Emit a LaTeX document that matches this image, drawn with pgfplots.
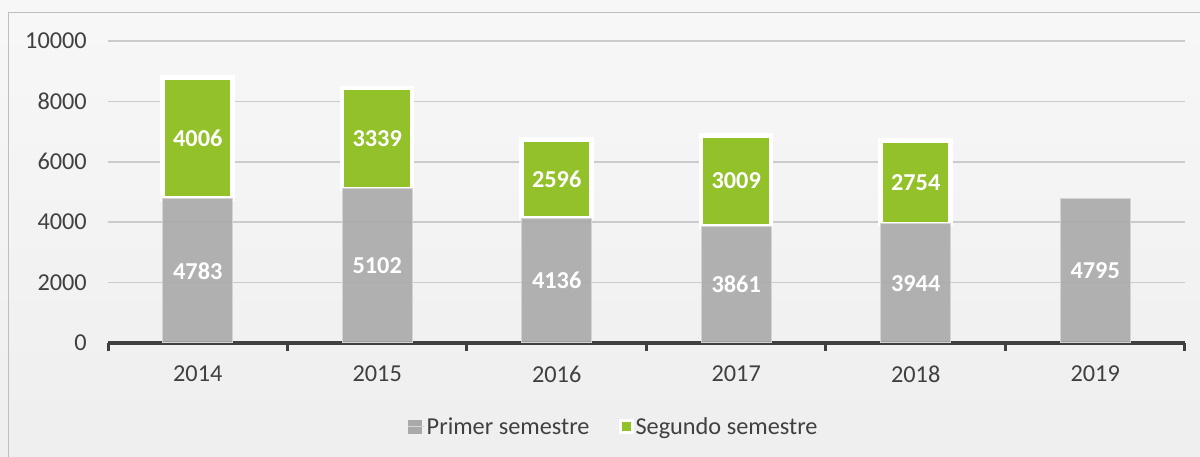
\documentclass[border=0pt]{standalone}
\usepackage{pgfplots}
\pgfplotsset{compat=1.18}
\usepackage{fontspec}
\setmainfont{Carlito}

\definecolor{barGray}{HTML}{A9A9A9}
\definecolor{barEdge}{HTML}{D4D4D4}
\definecolor{barGreen}{HTML}{92C12A}
\definecolor{txtDark}{HTML}{404040}
\definecolor{gridGray}{HTML}{CBCBCB}
\definecolor{frameGray}{HTML}{BEBEBE}

\newcommand{\lbl}{\fontsize{24.3}{29}\selectfont}

\begin{document}
\begin{tikzpicture}
\useasboundingbox (0pt,0pt) rectangle (1200pt,457pt);
\shade[top color=white!97!black, bottom color=white!93.5!black] (0pt,0pt) rectangle (1200pt,457pt);
\draw[frameGray, line width=1.5pt] (8.5pt,-10pt) -- (8.5pt,444.5pt) -- (1210pt,444.5pt);

\begin{axis}[
    at={(108pt,114pt)}, anchor=south west,
    scale only axis,
    width=1077pt, height=302pt,
    ybar stacked,
    bar width=0.39,
    xmin=-0.5, xmax=5.5,
    ymin=0, ymax=10000,
    enlargelimits=false,
    xtick={0,1,2,3,4,5},
    xticklabels={2014,2015,2016,2017,2018,2019},
    ytick={0,2000,4000,6000,8000,10000},
    scaled y ticks=false,
    yticklabel={\pgfmathprintnumber[fixed,precision=0,1000 sep={}]{\tick}},
    extra x ticks={-0.5,0.5,1.5,2.5,3.5,4.5,5.5},
    extra x tick labels={},
    extra x tick style={major tick length=8pt, tick align=outside,
        tick style={line width=3pt, color=txtDark}},
    major tick length=0pt,
    axis x line*=bottom,
    axis y line*=left,
    y axis line style={draw=none},
    x axis line style={line width=3.5pt, color=txtDark},
    ymajorgrids,
    major grid style={color=gridGray, line width=1.5pt},
    /pgf/number format/assume math mode=true,
    /pgf/number format/1000 sep={},
    yticklabel style={inner sep=0pt, xshift=-21pt, font=\lbl, text=txtDark},
    xticklabel style={inner sep=0pt, yshift=-23pt, font=\lbl, text=txtDark},
    legend style={at={(0.4695,-0.278)}, anchor=center, draw=none, fill=none,
        font=\lbl, text=txtDark, legend columns=2,
        /tikz/every even column/.append style={column sep=27pt}},
    visualization depends on=rawy \as \rawy,
    nodes near coords={\pgfmathprintnumber[fixed,precision=0,1000 sep={}]{\rawy}},
    every node near coord/.append style={anchor=center,
        text=white, font=\lbl\bfseries, text opacity=1, fill opacity=1},
]

\addplot[fill=barGray, draw=barEdge, line width=1pt, fill opacity=0.9,
    legend image code/.code={\fill[barGray, fill opacity=1] (0pt,-6.5pt) rectangle (13pt,6.5pt);
        \path (0pt,0pt) -- (16pt,0pt);}]
coordinates {
    (0,4783) (1,5102) (2,4136) (3,3861) (4,3944) (5,4795)
};

\addplot[fill=barGreen, draw=white, line width=4.5pt,
    legend image code/.code={\filldraw[fill=barGreen, draw=white, line width=3pt] (1.5pt,-6pt) rectangle (13.5pt,6pt);}]
coordinates {
    (0,4006) (1,3339) (2,2596) (3,3009) (4,2754)
};

\legend{Primer semestre, Segundo semestre}
\end{axis}
\end{tikzpicture}
\end{document}
